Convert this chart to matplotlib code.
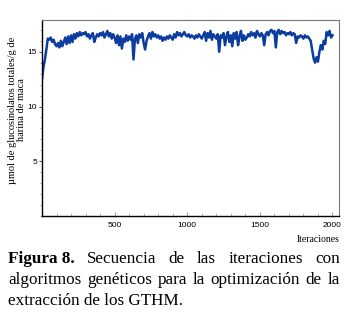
import matplotlib
matplotlib.use("Agg")
import matplotlib.pyplot as plt
from matplotlib.ticker import MultipleLocator

iterations = list(range(0, 2001, 10))
values = [
    12.5, 13.6, 14.3, 15.2, 16.2, 16.1, 16.3, 15.9, 16.1, 15.7,
    15.5, 15.8, 15.4, 16.0, 15.5, 15.9, 16.3, 15.7, 16.4, 15.8,
    16.5, 15.9, 16.6, 16.2, 16.7, 16.4, 16.8, 16.5, 16.7, 16.6,
    16.8, 16.4, 16.6, 16.2, 16.5, 16.7, 15.9, 16.3, 16.6, 16.4,
    16.7, 16.5, 16.8, 16.3, 16.6, 16.9, 16.4, 16.7, 16.2, 16.6,
    16.3, 15.8, 16.5, 15.6, 16.4, 15.3, 16.2, 15.9, 16.5, 16.0,
    16.4, 16.1, 16.6, 14.3, 16.2, 16.5, 15.8, 16.6, 16.3, 16.7,
    15.8, 15.2, 16.0, 16.4, 16.7, 16.2, 16.8, 16.4, 16.6, 16.3,
    16.5, 16.2, 16.4, 16.0, 16.3, 16.1, 16.4, 16.2, 16.5, 16.3,
    16.1, 16.6, 16.3, 16.8, 16.5, 16.7, 16.4, 16.6, 16.8, 16.5,
    16.4, 16.6, 16.3, 16.5, 16.4, 16.2, 16.5, 16.3, 16.6, 16.4,
    16.2, 16.5, 16.8, 16.0, 16.7, 16.3, 16.9, 16.1, 16.6, 16.4,
    16.2, 16.6, 15.0, 16.5, 16.3, 16.7, 15.6, 16.4, 16.8, 15.9,
    16.5, 15.5, 16.7, 16.2, 16.8, 15.6, 16.4, 16.9, 16.0, 16.5,
    16.1, 16.3, 16.6, 16.4, 16.8, 16.5, 16.7, 16.3, 16.9, 16.6,
    16.4, 16.7, 16.5, 15.6, 16.6, 16.8, 16.5, 16.9, 17.0, 16.7,
    16.9, 15.4, 16.8, 17.0, 16.6, 16.9, 16.7, 16.8, 16.5, 16.7,
    16.6, 16.8, 16.5, 16.7, 16.6, 15.8, 16.4, 16.3, 16.5, 16.4,
    16.2, 16.5, 16.3, 16.4, 16.2, 16.0, 15.2, 14.4, 14.0, 14.5,
    14.1, 15.0, 15.6, 15.2, 16.0, 15.7, 16.8, 16.5, 16.9, 16.3,
    16.5,
]
xticks = [500, 1000, 1500, 2000]
yticks = [5, 10, 15]
ylabel = "µmol de glucosinolatos totales/g de\nharina de maca"
xlabel = "Iteraciones"
caption_lines = [
    [("Figura 8.", "bold"), ("Secuencia", "normal"), ("de", "normal"), ("las", "normal"),
     ("iteraciones", "normal"), ("con", "normal")],
    [("algoritmos", "normal"), ("genéticos", "normal"), ("para", "normal"), ("la", "normal"),
     ("optimización", "normal"), ("de", "normal"), ("la", "normal")],
    [("extracción de los GTHM.", "normal")],
]

W, H = 356, 317
fig = plt.figure(figsize=(W / 100, H / 100), dpi=100)
ax = fig.add_axes([42 / W, 1 - 216 / H, (339 - 42) / W, (216 - 20) / H])
ax.plot(iterations, values, color="#0b3c9e", lw=1.8)
ax.set_xlim(0, 2045)
ax.set_ylim(0, 17.9)
ax.set_xticks(xticks)
ax.set_yticks(yticks)
ax.xaxis.set_minor_locator(MultipleLocator(100))
ax.yaxis.set_minor_locator(MultipleLocator(1))
ax.tick_params(axis="x", which="both", direction="in", color="#aaaaaa", labelsize=6, pad=4)
ax.tick_params(axis="x", which="major", length=3)
ax.tick_params(axis="x", which="minor", length=2)
ax.tick_params(axis="y", which="major", direction="out", length=2.5, labelsize=6, pad=1, color="#555555")
ax.tick_params(axis="y", which="minor", direction="out", length=1.5, color="#999999")
for lab in ax.get_xticklabels() + ax.get_yticklabels():
    lab.set_family("Liberation Sans")
ax.spines["top"].set_color("#777777")
ax.spines["right"].set_color("#777777")
ax.spines["top"].set_linewidth(0.8)
ax.spines["right"].set_linewidth(0.8)
ax.spines["left"].set_linewidth(1.0)
ax.spines["bottom"].set_linewidth(1.0)

fig.text(17 / W, 1 - 110 / H, ylabel, rotation=90, ha="center", va="center",
         family="Liberation Serif", fontsize=7.5, linespacing=0.95)
fig.text(340 / W, 1 - 239 / H, xlabel, ha="right", va="center",
         family="Liberation Serif", fontsize=7)

# justified caption
fig.canvas.draw()
renderer = fig.canvas.get_renderer()
left_px, right_px = 8, 340
line_y = [263, 284, 305]
fs = 12.3
for i, words in enumerate(caption_lines):
    texts = []
    for w, weight in words:
        t = fig.text(0, 1 - line_y[i] / H, w, family="Liberation Serif", fontsize=fs,
                     fontweight=weight, ha="left", va="baseline")
        texts.append(t)
    widths = [t.get_window_extent(renderer).width for t in texts]
    if len(texts) > 1:
        gap = (right_px - left_px - sum(widths)) / (len(texts) - 1)
    else:
        gap = 0
    x = left_px
    for t, wd in zip(texts, widths):
        t.set_x(x / W)
        x += wd + gap

fig.savefig("out.png", dpi=100)
